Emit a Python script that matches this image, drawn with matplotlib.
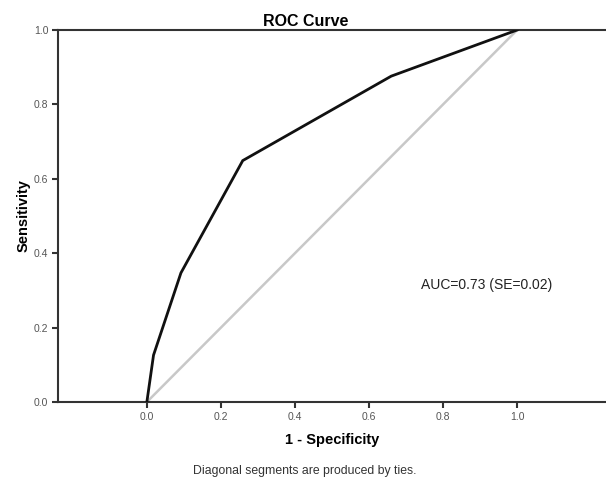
import numpy as np
import matplotlib
matplotlib.use("Agg")
import matplotlib.pyplot as plt

plt.rcParams['font.family'] = ['Liberation Sans', 'DejaVu Sans']

# ROC curve points (1 - specificity, sensitivity)
fpr = [0.0, 0.018, 0.092, 0.259, 0.66, 1.0]
tpr = [0.0, 0.126, 0.347, 0.649, 0.876, 1.0]
ticks = [0.0, 0.2, 0.4, 0.6, 0.8, 1.0]
tick_labels = ["0.0", "0.2", "0.4", "0.6", "0.8", "1.0"]
auc_text = "AUC=0.73 (SE=0.02)"

fig = plt.figure(figsize=(6.06, 4.84), dpi=100)
ax = fig.add_axes([0.0957, 0.1694, 0.9043, 0.7686])

# reference diagonal
ax.plot([0, 1], [0, 1], color='#c8c8c8', lw=1.8, zorder=2)
# ROC curve
ax.plot(fpr, tpr, color='#111111', lw=2.0, zorder=3, solid_joinstyle='miter')

ax.set_xlim(-0.24, 1.24)
ax.set_ylim(0, 1)

ax.set_xticks(ticks)
ax.set_xticklabels(tick_labels)
ax.set_yticks(ticks)
ax.set_yticklabels(tick_labels)
ax.tick_params(direction='out', length=4, width=1.5, color='#333333',
               labelsize=7.5, labelcolor='#555555', pad=3)

for s in ['left', 'top', 'bottom']:
    ax.spines[s].set_color('#333333')
    ax.spines[s].set_linewidth(1.5)
ax.spines['right'].set_visible(False)

fig.text(0.505, 1 - 22 / 484, "ROC Curve", fontsize=11.5, fontweight='bold',
         ha='center', va='center')
ax.set_xlabel("1 - Specificity", fontsize=10.5, fontweight='bold', labelpad=8)
ax.set_ylabel("Sensitivity", fontsize=10.5, fontweight='bold', labelpad=2)

ax.text(0.74, 0.315, auc_text, fontsize=10, color='#222222', va='center', ha='left')

fig.text(0.503, 1 - 471 / 484, "Diagonal segments are produced by ties.",
         fontsize=8.8, color='#333333', ha='center', va='center')

fig.savefig("out.png", dpi=100)
